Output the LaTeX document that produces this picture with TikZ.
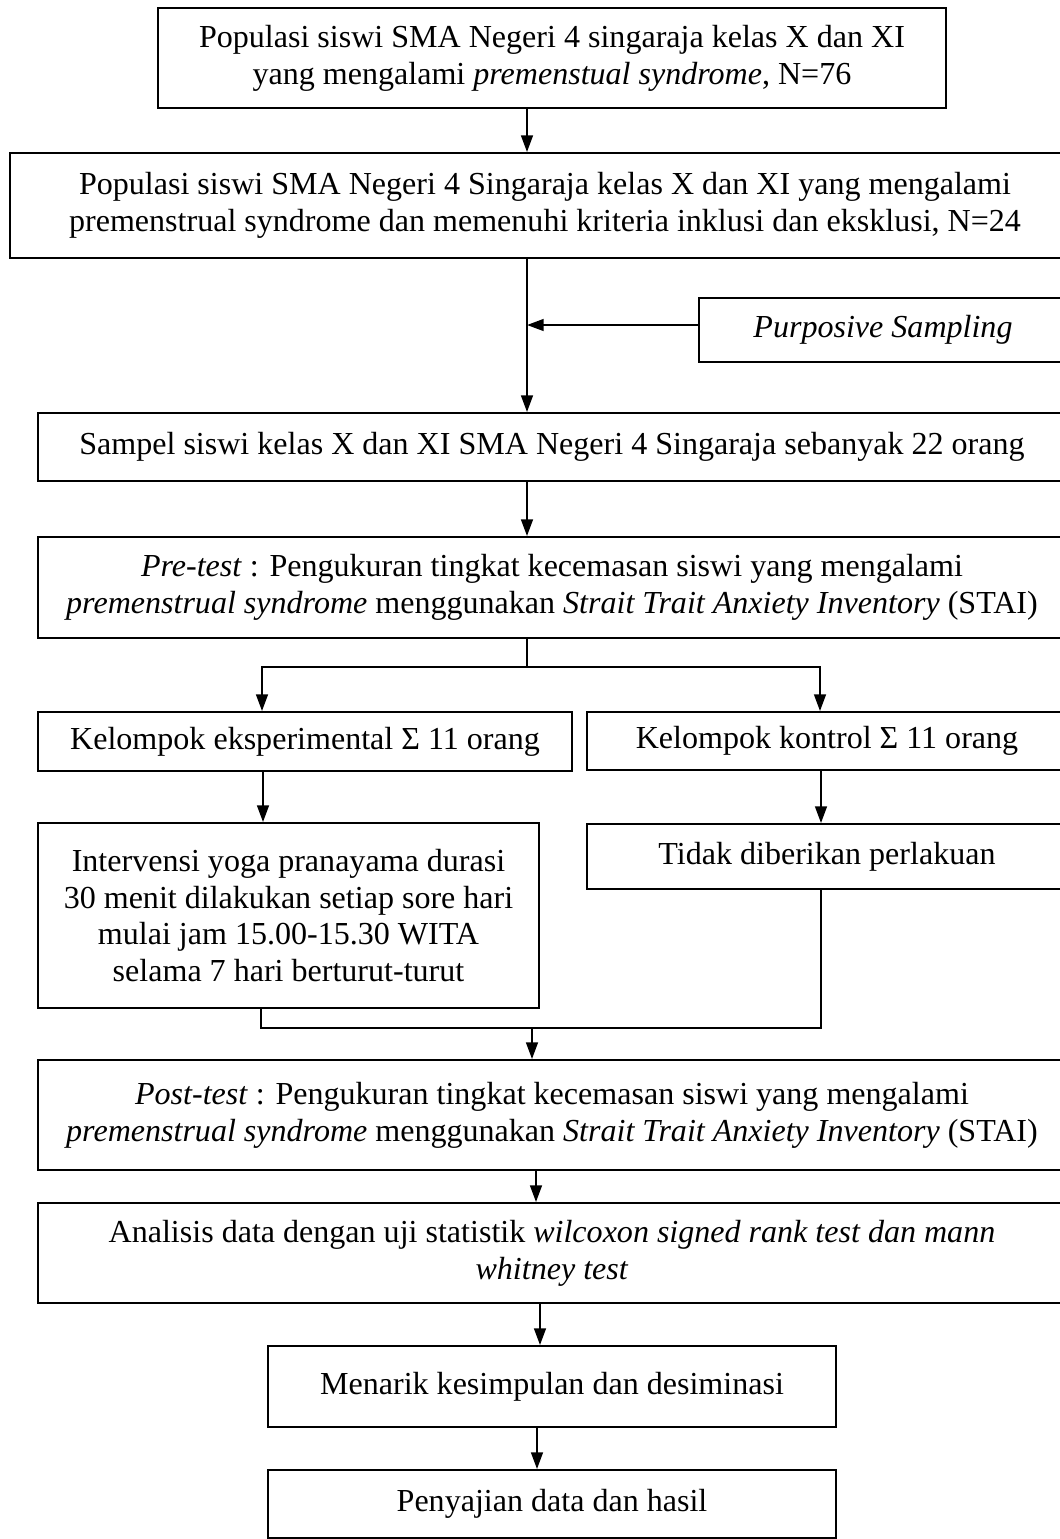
\documentclass[tikz,border=0pt]{standalone}
\usepackage{fontspec}
\setmainfont{Liberation Serif}
\usetikzlibrary{arrows.meta}
\newcommand{\pxu}{0.39pt}

\begin{document}
\begin{tikzpicture}[x=\pxu,y=-\pxu,
    box/.style={draw,line width=0.75pt,align=center,inner sep=0pt,font=\fontsize{12.5}{14.4}\selectfont},
    flow/.style={line width=0.75pt},
    arr/.style={flow,-{Triangle[length=6.5pt,width=4.6pt]}}]
    \useasboundingbox (0,0) rectangle (1059,1539);
    \node[box,minimum width=788*\pxu,minimum height=100*\pxu] (pop1) at (552,58) {Populasi siswi SMA Negeri 4 singaraja kelas X dan XI\\yang mengalami \textit{premenstual syndrome}, N=76};
    \node[box,minimum width=1070*\pxu,minimum height=105*\pxu] (pop2) at (545,205.5) {Populasi siswi SMA Negeri 4 Singaraja kelas X dan XI yang mengalami\\premenstrual syndrome dan memenuhi kriteria inklusi dan eksklusi, N=24};
    \node[box,minimum width=368*\pxu,minimum height=64*\pxu] (purp) at (883,330) {\textit{Purposive Sampling}};
    \node[box,minimum width=1028*\pxu,minimum height=68*\pxu] (sampel) at (552,447) {Sampel siswi kelas X dan XI SMA Negeri 4 Singaraja sebanyak 22 orang};
    \node[box,minimum width=1028*\pxu,minimum height=101*\pxu] (pre) at (552,587.5) {\textit{Pre-test} : Pengukuran tingkat kecemasan siswi yang mengalami\\\textit{premenstrual syndrome} menggunakan \textit{Strait Trait Anxiety Inventory} (STAI)};
    \node[box,minimum width=534*\pxu,minimum height=59*\pxu] (eks) at (305,741.5) {Kelompok eksperimental Σ 11 orang};
    \node[box,minimum width=480*\pxu,minimum height=58*\pxu] (kon) at (827,741) {Kelompok kontrol Σ 11 orang};
    \node[box,minimum width=501*\pxu,minimum height=185*\pxu] (inter) at (288.5,915.5) {Intervensi yoga pranayama durasi\\30 menit dilakukan setiap sore hari\\mulai jam 15.00-15.30 WITA\\selama 7 hari berturut-turut};
    \node[box,minimum width=480*\pxu,minimum height=65*\pxu] (tidak) at (827,856.5) {Tidak diberikan perlakuan};
    \node[box,minimum width=1028*\pxu,minimum height=110*\pxu] (post) at (552,1115) {\textit{Post-test} : Pengukuran tingkat kecemasan siswi yang mengalami\\\textit{premenstrual syndrome} menggunakan \textit{Strait Trait Anxiety Inventory} (STAI)};
    \node[box,minimum width=1028*\pxu,minimum height=100*\pxu] (anal) at (552,1253) {Analisis data dengan uji statistik \textit{wilcoxon signed rank test dan mann}\\\textit{whitney test}};
    \node[box,minimum width=568*\pxu,minimum height=81*\pxu] (menarik) at (552,1386.5) {Menarik kesimpulan dan desiminasi};
    \node[box,minimum width=568*\pxu,minimum height=68*\pxu] (sajian) at (552,1504) {Penyajian data dan hasil};

    \coordinate (tap) at (527,325);
    \draw[arr] ([xshift=-25*\pxu]pop1.south) -- ([xshift=-18*\pxu]pop2.north);
    \draw[arr] ([xshift=-18*\pxu]pop2.south) -- ([xshift=-25*\pxu]sampel.north);
    \draw[arr] ([yshift=5*\pxu]purp.west) -- (tap);
    \draw[arr] ([xshift=-25*\pxu]sampel.south) -- ([xshift=-25*\pxu]pre.north);
    \draw[flow] ([xshift=-25*\pxu]pre.south) -- ++(0,28) coordinate (split);
    \draw[arr] (split) -| ([xshift=-43*\pxu]eks.north);
    \draw[arr] (split) -| ([xshift=-7*\pxu]kon.north);
    \draw[arr] ([xshift=-42*\pxu]eks.south) -- ([xshift=-25.5*\pxu]inter.north);
    \draw[arr] ([xshift=-6*\pxu]kon.south) -- ([xshift=-6*\pxu]tidak.north);
    \draw[flow] ([xshift=-27.5*\pxu]inter.south) -- ++(0,19) coordinate (merge) -| ([xshift=-6*\pxu]tidak.south);
    \draw[arr] ([xshift=-20*\pxu]post.north |- merge) -- ([xshift=-20*\pxu]post.north);
    \draw[arr] ([xshift=-16*\pxu]post.south) -- ([xshift=-16*\pxu]anal.north);
    \draw[arr] ([xshift=-12*\pxu]anal.south) -- ([xshift=-12*\pxu]menarik.north);
    \draw[arr] ([xshift=-15*\pxu]menarik.south) -- ([xshift=-15*\pxu]sajian.north);
\end{tikzpicture}
\end{document}
